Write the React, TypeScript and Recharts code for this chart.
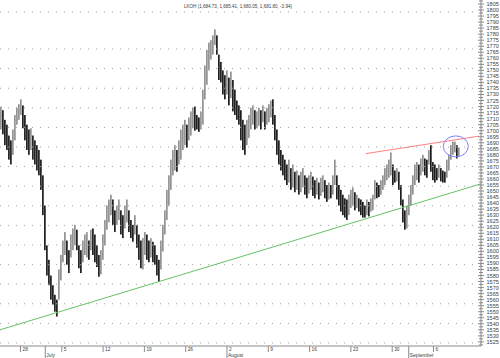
import React from 'react';
import { ComposedChart, Bar, XAxis, YAxis, ReferenceLine, ReferenceDot } from 'recharts';

// Intraday bar highs / lows (price), in time order
const highs = [
  1720, 1717, 1709, 1705, 1696, 1692, 1701, 1713, 1719, 1722, 1726, 1721, 1713, 1705, 1701, 1702, 1696, 1692, 1688, 1684,
  1676, 1663, 1638, 1605, 1593, 1580, 1572, 1564, 1560, 1585, 1597, 1609, 1616, 1609, 1601, 1614, 1619, 1622, 1618, 1605,
  1601, 1609, 1614, 1616, 1609, 1618, 1619, 1614, 1605, 1597, 1601, 1614, 1626, 1638, 1643, 1647, 1643, 1634, 1638, 1643,
  1634, 1630, 1638, 1643, 1634, 1626, 1622, 1630, 1622, 1614, 1609, 1611, 1616, 1614, 1609, 1611, 1608, 1605, 1597, 1593,
  1609, 1622, 1634, 1651, 1663, 1676, 1684, 1688, 1684, 1692, 1701, 1705, 1709, 1705, 1711, 1716, 1719, 1720, 1713, 1711,
  1716, 1734, 1754, 1767, 1773, 1775, 1779, 1784, 1779, 1763, 1757, 1750, 1746, 1750, 1744, 1749, 1742, 1734, 1725, 1721,
  1717, 1709, 1705, 1709, 1713, 1719, 1721, 1717, 1716, 1719, 1717, 1721, 1716, 1719, 1722, 1725, 1726, 1713, 1701, 1692,
  1684, 1680, 1676, 1672, 1676, 1669, 1672, 1666, 1667, 1663, 1666, 1669, 1663, 1661, 1663, 1666, 1662, 1659, 1661, 1657,
  1661, 1663, 1659, 1655, 1657, 1655, 1663, 1676, 1663, 1655, 1651, 1647, 1644, 1643, 1647, 1651, 1653, 1649, 1647, 1644,
  1643, 1641, 1638, 1643, 1641, 1644, 1647, 1659, 1657, 1655, 1659, 1663, 1669, 1672, 1676, 1682, 1672, 1667, 1669, 1666,
  1655, 1643, 1634, 1638, 1647, 1655, 1663, 1672, 1674, 1672, 1677, 1680, 1677, 1676, 1684, 1688, 1674, 1672, 1669, 1672,
  1669, 1667, 1666, 1676, 1680, 1688, 1691, 1691, 1688, 1686,
];
const lows = [
  1701, 1697, 1688, 1684, 1676, 1672, 1680, 1692, 1705, 1709, 1713, 1702, 1692, 1684, 1680, 1684, 1676, 1672, 1667, 1663,
  1651, 1630, 1601, 1580, 1572, 1560, 1556, 1550, 1546, 1560, 1576, 1591, 1597, 1589, 1582, 1595, 1601, 1605, 1601, 1586,
  1582, 1591, 1597, 1595, 1593, 1601, 1597, 1591, 1587, 1579, 1581, 1593, 1605, 1618, 1624, 1630, 1622, 1616, 1622, 1626,
  1614, 1611, 1619, 1624, 1616, 1611, 1608, 1614, 1603, 1593, 1586, 1585, 1597, 1593, 1591, 1595, 1591, 1589, 1580, 1575,
  1585, 1600, 1614, 1626, 1638, 1651, 1663, 1667, 1666, 1672, 1676, 1684, 1688, 1686, 1692, 1696, 1702, 1700, 1701, 1699,
  1701, 1705, 1726, 1738, 1750, 1759, 1763, 1771, 1763, 1742, 1740, 1730, 1726, 1730, 1721, 1727, 1716, 1713, 1709, 1705,
  1692, 1684, 1680, 1688, 1694, 1701, 1705, 1701, 1702, 1704, 1701, 1707, 1701, 1705, 1707, 1711, 1705, 1692, 1680, 1672,
  1667, 1663, 1659, 1655, 1657, 1651, 1653, 1649, 1651, 1647, 1649, 1653, 1647, 1644, 1648, 1651, 1646, 1644, 1647, 1643,
  1646, 1649, 1644, 1641, 1643, 1644, 1647, 1655, 1643, 1638, 1633, 1630, 1628, 1626, 1630, 1636, 1638, 1634, 1636, 1633,
  1630, 1628, 1628, 1630, 1629, 1633, 1634, 1643, 1644, 1645, 1647, 1651, 1655, 1659, 1661, 1663, 1655, 1657, 1658, 1651,
  1638, 1624, 1618, 1619, 1630, 1638, 1647, 1655, 1659, 1657, 1663, 1666, 1663, 1661, 1672, 1666, 1659, 1657, 1659, 1661,
  1658, 1657, 1657, 1661, 1667, 1676, 1680, 1682, 1677, 1679,
];

// time axis is measured in trading days from Monday 28 June
const FIRST_BAR_DAY = -2.36;
const BAR_STEP_DAYS = 0.2421;
const X_DOMAIN: [number, number] = [-2.48, 55.75];
const Y_DOMAIN: [number, number] = [1521.6, 1808.3];

const weekTickDays = [0, 5, 10, 15, 20, 25, 30, 35, 40, 45, 50];
const weekTickLabels = ['28', '5', '12', '19', '26', '2', '9', '16', '23', '30', '6'];
const monthTickDays = [3, 25, 47];
const monthTickLabels = ['July', 'August', 'September'];

const priceTicks = Array.from({ length: 115 }, (_, i) => 1522.5 + i * 2.5);

const gridLevels = [1798.4, 1767.7, 1751.5, 1735.2, 1719.0, 1702.7, 1686.5, 1670.3, 1654.0, 1637.8, 1621.5, 1605.3, 1589.0, 1572.8, 1556.6, 1540.3, 1524.1];

const supportLine = [{ x: -2.48, y: 1535 }, { x: 55.75, y: 1656 }];
const resistanceLine = [{ x: 41.8, y: 1681 }, { x: 55.5, y: 1695.5 }];
const circleCenter = { day: 52.7, price: 1687 };

const TITLE = 'LKOH (1,684.73, 1,685.41, 1,680.05, 1,681.80, -3.94)';

const rows = highs.map((h, i) => {
  const l = lows[i];
  const mid = (h + l) / 2;
  const prevMid = i > 0 ? (highs[i - 1] + lows[i - 1]) / 2 : mid;
  return { t: FIRST_BAR_DAY + i * BAR_STEP_DAYS, range: [l, h], up: mid >= prevMid };
});

const allXTicks = Array.from(new Set([...weekTickDays, ...monthTickDays])).sort((a, b) => a - b);

const TEXT = '#404040';
const AXIS = '#8a8a8a';
const FONT = '"Liberation Sans", Arial, sans-serif';

const XTick = (props: any) => {
  const { x, y, payload } = props;
  const v = payload.value;
  const wi = weekTickDays.indexOf(v);
  const mi = monthTickDays.indexOf(v);
  return (
    <g>
      {mi >= 0 && <line x1={x} x2={x} y1={y} y2={y + 12} stroke={AXIS} />}
      {mi >= 0 && (
        <text x={x + 1} y={y + 11} fontSize={4.9} fill={TEXT} fontFamily={FONT}>{monthTickLabels[mi]}</text>
      )}
      {wi >= 0 && mi < 0 && <line x1={x} x2={x} y1={y} y2={y + 6} stroke={AXIS} />}
      {wi >= 0 && (
        <text x={x + 2} y={y + 5.3} fontSize={4.8} fill={TEXT} fontFamily={FONT}>{weekTickLabels[wi]}</text>
      )}
    </g>
  );
};

const YTick = (props: any) => {
  const { x, y, payload } = props;
  const v = payload.value;
  const major = Math.abs(v / 5 - Math.round(v / 5)) < 1e-6;
  return (
    <g>
      <line x1={x - (major ? 3 : 2)} x2={x + (major ? 3 : 2)} y1={y} y2={y} stroke={AXIS} />
      {major && (
        <text x={x + 5.5} y={y + 2} fontSize={5.6} fill={TEXT} fontFamily={FONT}>{String(v)}</text>
      )}
    </g>
  );
};

const BarShape = (p: any) => {
  const { x, y, width, height, payload } = p;
  if (x == null || y == null) return null;
  const cx = x + width / 2;
  return <rect x={cx - 0.8} y={y} width={1.6} height={Math.max(Math.abs(height), 1)} fill={payload.up ? '#8c8c8c' : '#111111'} />;
};

const EllipseShape = (p: any) => (
  <ellipse cx={p.cx} cy={p.cy} rx={12.5} ry={10.5} fill="none" stroke="#7f7fff" strokeWidth={1} />
);

export default function App() {
  return (
    <div style={{ position: 'relative', width: 500, height: 358, background: '#fff' }}>
      <style>{'body{margin:0;background:#fff}'}</style>
      <ComposedChart width={500} height={358} data={rows} margin={{ top: 0, right: 0, bottom: 0, left: 0 }}>
        <XAxis
          dataKey="t"
          type="number"
          domain={X_DOMAIN}
          allowDataOverflow
          ticks={allXTicks}
          interval={0}
          tick={XTick}
          tickLine={false}
          tickSize={0}
          tickMargin={0}
          axisLine={{ stroke: AXIS }}
          height={12}
        />
        <YAxis
          orientation="right"
          type="number"
          domain={Y_DOMAIN}
          allowDataOverflow
          ticks={priceTicks}
          interval={0}
          tick={YTick}
          tickLine={false}
          tickSize={0}
          tickMargin={0}
          axisLine={{ stroke: AXIS }}
          width={19}
        />
        {gridLevels.map((v) => (
          <ReferenceLine key={v} y={v} stroke="#a0a0a0" strokeDasharray="1 7" />
        ))}
        <ReferenceLine segment={supportLine} stroke="#66c266" strokeWidth={1} />
        <ReferenceLine segment={resistanceLine} stroke="#ff8080" strokeWidth={1} />
        <Bar dataKey="range" shape={BarShape} isAnimationActive={false} barSize={2} />
        <ReferenceDot x={circleCenter.day} y={circleCenter.price} r={11} shape={EllipseShape} />
      </ComposedChart>
      <svg width={500} height={358} style={{ position: 'absolute', left: 0, top: 0, pointerEvents: 'none' }}>
        <text x={184} y={7.5} fontSize={5} fill={TEXT} fontFamily={FONT} textLength={108} lengthAdjust="spacingAndGlyphs">
          {TITLE}
        </text>
      </svg>
    </div>
  );
}
